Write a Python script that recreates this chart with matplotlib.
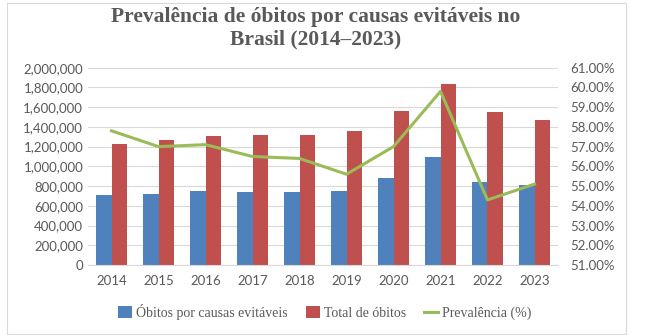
import matplotlib
matplotlib.use('Agg')
import matplotlib.pyplot as plt
import matplotlib.ticker as mticker
from matplotlib.patches import Rectangle
import numpy as np

anos = ['2014', '2015', '2016', '2017', '2018', '2019', '2020', '2021', '2022', '2023']
obitos_evitaveis = [710000, 720000, 747000, 740000, 740000, 747000, 885000, 1098000, 838000, 808000]
total_obitos = [1227000, 1267000, 1311000, 1314000, 1317000, 1355000, 1558000, 1838000, 1548000, 1467000]
prevalencia = [57.8, 57.0, 57.1, 56.5, 56.4, 55.6, 57.0, 59.8, 54.3, 55.1]

azul = '#4f81bd'
vermelho = '#c0504d'
verde = '#9bbb59'
cinza = '#595959'

plt.rcParams['font.family'] = ['Liberation Serif', 'DejaVu Serif']
fonte_eixos = ['Lato', 'DejaVu Sans']

fig = plt.figure(figsize=(6.67, 3.35), dpi=100)
# moldura do grafico
fig.patches.append(Rectangle((7/667, 1/335), 619/667, 331/335, transform=fig.transFigure,
                             fill=False, edgecolor='#d9d9d9', linewidth=0.8))

ax = fig.add_axes([88/667, 70/335, 470/667, 197.3/335])
x = np.arange(len(anos))
w = 0.33
ax.bar(x - w/2, obitos_evitaveis, w, color=azul, label='Óbitos por causas evitáveis', zorder=2)
ax.bar(x + w/2, total_obitos, w, color=vermelho, label='Total de óbitos', zorder=2)
ax.set_xlim(-0.5, len(anos) - 0.5)
ax.set_ylim(0, 2000000)
ax.set_yticks(np.arange(0, 2000001, 200000))
ax.yaxis.set_major_formatter(mticker.FuncFormatter(lambda v, p: f'{int(v):,}'))
ax.set_xticks(x)
ax.set_xticklabels(anos)
ax.grid(axis='y', color='#d9d9d9', linewidth=0.8, zorder=0)
for s in ['top', 'right', 'left']:
    ax.spines[s].set_visible(False)
ax.spines['bottom'].set_color('#d9d9d9')
ax.tick_params(axis='both', length=0, labelsize=9.5, colors=cinza)
ax.tick_params(axis='x', pad=7)
for t in ax.get_xticklabels() + ax.get_yticklabels():
    t.set_family(fonte_eixos)

ax2 = ax.twinx()
ax2.plot(x, prevalencia, color=verde, linewidth=2.2, label='Prevalência (%)', zorder=3)
ax2.set_ylim(51, 61)
ax2.set_yticks(np.arange(51, 61.01, 1))
ax2.yaxis.set_major_formatter(mticker.FuncFormatter(lambda v, p: f'{v:.2f}%'))
for s in ax2.spines.values():
    s.set_visible(False)
ax2.tick_params(axis='y', length=0, labelsize=9.5, colors=cinza, pad=9)
for t in ax2.get_yticklabels():
    t.set_family(fonte_eixos)

fig.text(316/667, 1 - 28/335, 'Prevalência de óbitos por causas evitáveis no\nBrasil (2014–2023)',
         ha='center', va='center', fontsize=15.5, fontweight='bold', color=cinza, linespacing=1.15)

h1, l1 = ax.get_legend_handles_labels()
h2, l2 = ax2.get_legend_handles_labels()
fig.legend(h1 + h2, l1 + l2, loc='center', bbox_to_anchor=(325/667, 1 - 312/335), ncol=3,
           frameon=False, fontsize=10, labelcolor=cinza, handlelength=1.0, handleheight=0.9,
           handletextpad=0.3, columnspacing=1.3)

fig.savefig('out.png', dpi=100)
